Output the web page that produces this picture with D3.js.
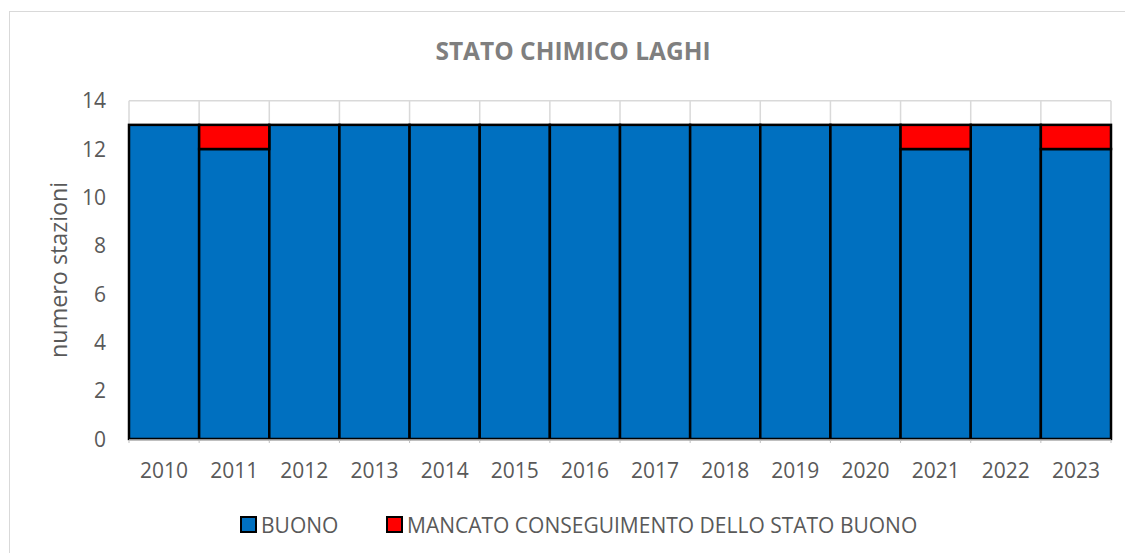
<!DOCTYPE html>
<html><head><meta charset="utf-8">
<script src="https://cdn.jsdelivr.net/npm/d3@7"></script>
<style>body{margin:0;background:#fff}svg{display:block}text{font-family:"Open Sans",sans-serif}</style>
</head><body><svg id="c" width="1125" height="553"></svg>
<script>
const years = ["2010","2011","2012","2013","2014","2015","2016","2017","2018","2019","2020","2021","2022","2023"];
const buono = [13,12,13,13,13,13,13,13,13,13,13,12,13,12];
const mancato = [0,1,0,0,0,0,0,0,0,0,0,1,0,1];
const yTicks = [0,2,4,6,8,10,12,14];
const seriesNames = ["BUONO","MANCATO CONSEGUIMENTO DELLO STATO BUONO"];
const colors = ["#0070C0","#FF0000"];

const svg = d3.select("#c");
const L=129, R=1111, T=100.7, B=439;
const x = d3.scaleBand().domain(years).range([L,R]).padding(0);
const y = d3.scaleLinear().domain([0,14]).range([B,T]);

// outer border
svg.append("rect").attr("x",9.5).attr("y",11.5).attr("width",1130).attr("height",560)
  .attr("fill","none").attr("stroke","#d9d9d9").attr("stroke-width",1);

// title
svg.append("text").attr("x",573).attr("y",59.5).attr("text-anchor","middle")
  .attr("font-size",24.5).attr("font-weight","bold").attr("fill","#7f7f7f").text("STATO CHIMICO LAGHI");

// gridlines
svg.append("g").selectAll("line").data(yTicks).join("line")
  .attr("x1",L).attr("x2",R).attr("y1",d=>y(d)).attr("y2",d=>y(d))
  .attr("stroke","#d9d9d9").attr("stroke-width",1.5);
const bounds = years.map(d=>x(d)).concat([R]);
svg.append("g").selectAll("line").data(bounds).join("line")
  .attr("x1",d=>d).attr("x2",d=>d).attr("y1",T).attr("y2",B)
  .attr("stroke","#d9d9d9").attr("stroke-width",1.5);

// stacked bars
const data = years.map((yr,i)=>({year:yr,buono:buono[i],mancato:mancato[i]}));
const stack = d3.stack().keys(["buono","mancato"])(data);
svg.append("g").selectAll("g").data(stack).join("g")
  .attr("fill",(d,i)=>colors[i])
  .selectAll("rect").data(d=>d.filter(s=>s[1]-s[0]>0)).join("rect")
  .attr("x",d=>x(d.data.year)).attr("width",x.bandwidth())
  .attr("y",d=>y(d[1])).attr("height",d=>y(d[0])-y(d[1]))
  .attr("stroke","#000").attr("stroke-width",2.5);

// x axis
const xa = svg.append("g").attr("transform",`translate(0,${B+1})`);
xa.append("line").attr("x1",L).attr("x2",R).attr("stroke","#bfbfbf").attr("stroke-width",1.5);
xa.selectAll("line.t").data(bounds).join("line").attr("class","t")
  .attr("x1",d=>d).attr("x2",d=>d).attr("y1",0).attr("y2",3).attr("stroke","#bfbfbf");
xa.selectAll("text").data(years).join("text")
  .attr("x",d=>x(d)+x.bandwidth()/2).attr("y",38).attr("text-anchor","middle")
  .attr("font-size",21).attr("fill","#595959").text(d=>d);

// y axis labels
svg.append("g").selectAll("text").data(yTicks).join("text")
  .attr("x",106).attr("y",d=>y(d)+7.5).attr("text-anchor","end")
  .attr("font-size",21).attr("fill","#595959").text(d=>d);

svg.append("text").attr("transform",`translate(67,${(T+B)/2}) rotate(-90)`)
  .attr("text-anchor","middle").attr("font-size",23.3).attr("fill","#595959").text("numero stazioni");

// legend
const legX = [241, 387];
const lg = svg.append("g").selectAll("g").data(seriesNames).join("g")
  .attr("transform",(d,i)=>`translate(${legX[i]},517)`);
lg.append("rect").attr("width",15).attr("height",15).attr("fill",(d,i)=>colors[i])
  .attr("stroke","#000").attr("stroke-width",2);
lg.append("text").attr("x",20).attr("y",15.5).attr("font-size",21).attr("fill","#595959").text(d=>d);
</script></body></html>
